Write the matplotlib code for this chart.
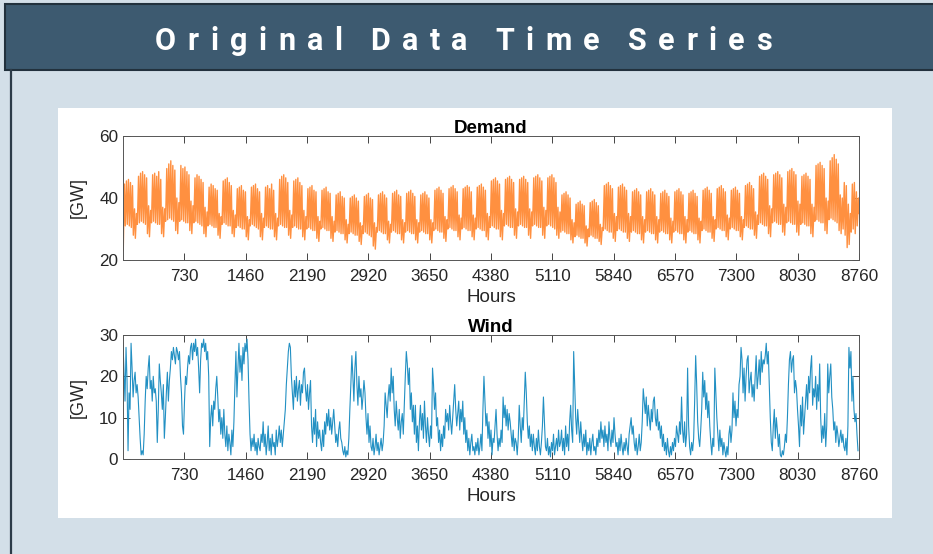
import numpy as np
import matplotlib.pyplot as plt
from matplotlib.patches import Rectangle
from matplotlib.lines import Line2D
from matplotlib import font_manager

# ---------- data ----------

# daily demand peaks [GW], one row per week (Mon..Sun)
demand_peak = [
    44.5, 45.5, 46.0, 45.0, 44.0, 36.5, 35.0,
    47.0, 48.0, 48.5, 47.5, 46.5, 37.5, 36.0,
    47.5, 48.0, 47.0, 48.5, 46.0, 37.0, 36.5,
    49.5, 51.0, 52.0, 50.5, 49.0, 40.0, 38.5,
    50.5, 49.5, 50.0, 48.5, 47.5, 39.0, 37.5,
    46.5, 47.5, 47.0, 46.0, 45.0, 37.0, 35.5,
    43.5, 44.5, 44.0, 43.0, 42.5, 35.0, 34.0,
    45.5, 46.0, 46.5, 45.0, 44.0, 36.0, 34.5,
    43.0, 43.5, 44.0, 42.5, 42.0, 34.0, 33.0,
    43.5, 44.0, 44.5, 43.0, 42.0, 35.0, 33.5,
    43.5, 44.0, 43.0, 44.5, 42.5, 35.0, 33.5,
    46.0, 47.0, 47.5, 46.5, 45.0, 36.0, 34.5,
    45.5, 46.0, 46.5, 45.0, 44.0, 36.0, 34.0,
    43.0, 43.5, 44.0, 42.5, 42.0, 34.0, 32.5,
    42.5, 43.0, 43.5, 42.0, 41.5, 34.0, 32.5,
    41.0, 41.5, 42.0, 40.5, 40.0, 33.0, 31.5,
    40.0, 40.5, 41.0, 40.0, 39.0, 32.0, 31.0,
    40.5, 41.0, 41.5, 40.0, 39.5, 32.0, 30.5,
    41.0, 41.5, 42.0, 41.0, 40.0, 32.5, 31.5,
    41.5, 42.0, 42.5, 41.0, 40.5, 33.0, 32.0,
    41.5, 42.0, 42.5, 41.5, 40.5, 33.0, 32.0,
    41.0, 41.5, 42.0, 41.0, 40.0, 33.0, 32.0,
    42.5, 43.0, 43.5, 42.5, 41.5, 34.0, 33.0,
    43.0, 43.5, 44.0, 43.0, 42.0, 34.5, 33.5,
    43.0, 43.5, 44.0, 43.5, 42.0, 34.5, 33.5,
    43.5, 44.0, 44.5, 43.5, 42.5, 35.0, 34.0,
    45.5, 46.0, 46.5, 45.5, 44.5, 36.0, 35.0,
    46.0, 46.5, 47.0, 46.0, 45.0, 36.5, 35.5,
    46.0, 46.5, 47.0, 46.0, 45.0, 36.5, 35.5,
    46.5, 47.0, 47.5, 46.5, 45.5, 37.0, 36.0,
    46.5, 47.0, 47.5, 46.5, 45.0, 37.0, 35.5,
    41.0, 41.5, 42.0, 41.0, 40.0, 33.0, 32.0,
    38.0, 38.5, 39.0, 38.0, 37.5, 31.0, 30.0,
    38.5, 39.0, 39.5, 38.5, 37.5, 31.5, 30.5,
    44.0, 44.5, 45.0, 44.0, 43.0, 35.0, 34.0,
    43.5, 44.0, 44.5, 43.5, 42.5, 35.0, 34.0,
    42.0, 42.5, 43.0, 42.0, 41.0, 34.0, 33.0,
    42.0, 42.5, 43.0, 42.0, 41.0, 34.0, 33.0,
    41.5, 42.0, 42.5, 41.5, 40.5, 33.5, 32.5,
    42.0, 42.5, 43.0, 42.0, 41.0, 34.0, 33.0,
    41.5, 42.0, 42.5, 41.5, 40.5, 33.5, 32.5,
    42.5, 43.0, 43.5, 42.5, 41.5, 34.0, 33.0,
    43.0, 43.5, 44.0, 43.0, 42.0, 34.5, 33.5,
    42.5, 43.0, 43.5, 42.5, 41.5, 34.0, 33.0,
    44.0, 44.5, 45.0, 44.0, 43.0, 35.5, 34.5,
    47.0, 47.5, 48.0, 47.0, 46.0, 37.5, 36.5,
    47.5, 48.0, 48.5, 47.5, 46.5, 38.0, 37.0,
    48.5, 49.0, 49.5, 48.5, 47.5, 39.0, 38.0,
    47.0, 47.5, 48.0, 47.0, 46.0, 38.0, 37.0,
    50.5, 51.0, 51.5, 50.5, 49.5, 40.0, 39.0,
    52.0, 53.0, 54.0, 52.5, 51.0, 41.0, 40.0,
    45.0, 44.0, 38.0, 35.0, 44.5, 45.0, 42.0,
    40.0,
]

# daily demand night troughs [GW], same layout
demand_trough = [
    23.0, 31.0, 31.5, 31.0, 30.5, 28.0, 27.0,
    31.5, 32.0, 32.5, 32.0, 31.5, 28.5, 27.5,
    32.0, 32.5, 32.0, 31.5, 31.5, 28.5, 27.5,
    32.5, 33.0, 33.5, 33.0, 32.5, 29.5, 28.5,
    32.5, 33.0, 32.5, 32.0, 32.0, 29.5, 28.5,
    32.0, 32.5, 32.0, 31.5, 31.0, 28.5, 27.5,
    31.0, 31.5, 31.0, 30.5, 30.5, 28.0, 27.0,
    31.5, 32.0, 31.5, 31.0, 31.0, 28.5, 27.5,
    30.5, 31.0, 30.5, 30.0, 30.0, 27.5, 26.5,
    31.0, 31.5, 31.0, 30.5, 30.0, 27.5, 26.5,
    30.5, 31.0, 30.5, 30.0, 30.0, 27.5, 26.5,
    31.0, 31.5, 31.0, 30.5, 30.5, 28.0, 27.0,
    30.5, 31.0, 30.5, 30.0, 30.0, 27.5, 26.5,
    30.0, 30.5, 30.0, 29.5, 29.5, 27.0, 26.0,
    30.0, 30.5, 30.0, 29.5, 29.5, 27.0, 26.0,
    29.0, 29.5, 29.0, 28.5, 28.5, 26.5, 25.5,
    28.5, 29.0, 28.5, 28.0, 28.0, 26.0, 25.0,
    28.5, 29.0, 28.5, 28.0, 27.5, 24.5, 23.5,
    29.0, 29.5, 29.0, 28.5, 28.5, 26.5, 25.5,
    29.0, 29.5, 29.0, 28.5, 28.5, 26.5, 25.5,
    29.0, 29.5, 29.0, 28.5, 28.5, 26.5, 25.5,
    29.0, 29.5, 29.0, 28.5, 28.5, 26.5, 25.5,
    29.5, 30.0, 29.5, 29.0, 29.0, 27.0, 26.0,
    30.0, 30.5, 30.0, 29.5, 29.5, 27.5, 26.5,
    30.0, 30.5, 30.0, 29.5, 29.5, 27.5, 26.5,
    30.0, 30.5, 30.0, 29.5, 29.5, 27.5, 26.5,
    30.5, 31.0, 30.5, 30.0, 30.0, 27.5, 26.5,
    31.0, 31.5, 31.0, 30.5, 30.5, 28.0, 27.0,
    31.0, 31.5, 31.0, 30.5, 30.5, 28.0, 27.0,
    31.0, 31.5, 31.0, 30.5, 30.5, 28.0, 27.0,
    31.0, 31.5, 31.0, 30.5, 30.0, 28.0, 27.0,
    29.0, 29.5, 29.0, 28.5, 28.5, 26.5, 25.5,
    27.5, 28.0, 27.5, 27.0, 27.0, 25.5, 24.5,
    27.5, 28.0, 27.5, 27.0, 27.0, 26.0, 25.0,
    29.5, 30.0, 29.5, 29.0, 29.0, 27.0, 26.0,
    29.5, 30.0, 29.5, 29.0, 29.0, 27.0, 26.0,
    29.0, 29.5, 29.0, 28.5, 28.5, 26.5, 25.5,
    29.0, 29.5, 29.0, 28.5, 28.5, 26.5, 25.5,
    29.0, 29.5, 29.0, 28.5, 28.5, 26.5, 25.5,
    29.0, 29.5, 29.0, 28.5, 28.5, 26.5, 25.5,
    29.0, 29.5, 29.0, 28.5, 28.5, 26.5, 25.5,
    29.5, 30.0, 29.5, 29.0, 29.0, 27.0, 26.0,
    30.0, 30.5, 30.0, 29.5, 29.5, 27.5, 26.5,
    30.0, 30.5, 30.0, 29.5, 29.5, 27.5, 26.5,
    30.5, 31.0, 30.5, 30.0, 30.0, 28.0, 27.0,
    31.5, 32.0, 31.5, 31.0, 31.0, 28.5, 27.5,
    32.0, 32.5, 32.0, 31.5, 31.5, 29.0, 28.0,
    32.0, 32.5, 32.0, 31.5, 31.5, 29.0, 28.0,
    31.5, 32.0, 31.5, 31.0, 31.0, 28.5, 27.5,
    32.5, 33.0, 32.5, 32.0, 32.0, 29.5, 28.5,
    33.0, 33.5, 33.0, 32.5, 32.0, 29.5, 28.5,
    30.0, 28.0, 24.0, 25.0, 29.0, 30.0, 28.5,
    31.0,
]
demand_last = 35.0

# wind generation [GW], 12-hourly, one row per week
wind = [
    28, 21, 14, 27, 19, 2, 16, 12, 28, 22, 15, 19, 21, 16,
    18, 15, 10, 5, 1, 2, 1, 6, 14, 20, 17, 22, 25, 17,
    19, 14, 20, 16, 17, 14, 4, 12, 23, 19, 16, 12, 18, 5,
    10, 16, 21, 14, 19, 22, 26, 24, 27, 25, 23, 27, 26, 24,
    26, 20, 16, 8, 6, 14, 20, 18, 22, 25, 23, 27, 28, 24,
    28, 26, 29, 25, 27, 22, 16, 24, 28, 27, 29, 26, 28, 24,
    26, 20, 3, 10, 13, 8, 14, 12, 17, 20, 15, 9, 12, 6,
    10, 5, 12, 6, 3, 8, 2, 6, 4, 1, 7, 3, 9, 18,
    26, 15, 22, 28, 21, 25, 19, 27, 23, 28, 26, 29, 24, 14,
    6, 2, 5, 3, 6, 2, 4, 1, 5, 3, 2, 6, 4, 9,
    3, 6, 1, 4, 8, 2, 5, 1, 6, 3, 4, 1, 7, 3,
    5, 8, 4, 7, 3, 6, 9, 12, 18, 22, 26, 28, 27, 20,
    16, 12, 19, 15, 20, 14, 17, 19, 13, 18, 16, 21, 22, 17,
    14, 18, 12, 16, 19, 8, 4, 10, 6, 12, 3, 9, 5, 7,
    4, 2, 7, 3, 9, 6, 11, 8, 12, 7, 10, 6, 9, 12,
    8, 4, 6, 3, 7, 9, 5, 4, 2, 1, 3, 0.5, 2, 1,
    5, 12, 18, 25, 20, 14, 22, 26, 18, 13, 20, 15, 17, 12,
    15, 19, 16, 10, 6, 11, 4, 8, 3, 2, 5, 1, 3, 6,
    2, 4, 1, 3, 5, 2, 4, 8, 16, 13, 10, 15, 18, 14,
    22, 16, 20, 12, 8, 14, 10, 7, 12, 5, 9, 11, 6, 13,
    20, 26, 23, 18, 22, 12, 16, 9, 13, 6, 13, 4, 8, 2,
    9, 13, 7, 11, 5, 14, 8, 4, 10, 6, 3, 8, 5, 22,
    18, 12, 16, 8, 10, 4, 7, 2, 6, 3, 8, 5, 12, 9,
    11, 7, 13, 9, 6, 10, 14, 18, 12, 8, 11, 14, 7, 12,
    9, 14, 6, 10, 4, 7, 2, 5, 1, 4, 6, 2, 3, 1,
    4, 2, 5, 1, 3, 6, 2, 12, 20, 14, 8, 11, 5, 9,
    3, 7, 1, 5, 4, 8, 12, 6, 2, 5, 3, 7, 4, 15,
    10, 13, 8, 12, 7, 11, 9, 6, 3, 7, 2, 5, 4, 1,
    5, 13, 8, 4, 10, 7, 14, 21, 16, 9, 5, 8, 3, 6,
    2, 6, 3, 1, 5, 2, 7, 3, 1, 4, 8, 15, 9, 3,
    2, 5, 1, 3, 0.5, 4, 2, 6, 1, 3, 5, 2, 7, 3,
    4, 7, 2, 5, 1, 8, 3, 6, 2, 9, 13, 7, 4, 26,
    18, 10, 6, 12, 8, 4, 9, 5, 2, 6, 3, 7, 1, 4,
    2, 5, 1, 4, 6, 2, 3, 1, 5, 3, 7, 4, 9, 5,
    7, 3, 8, 4, 6, 2, 9, 5, 3, 7, 4, 10, 6, 3,
    4, 1, 5, 2, 6, 3, 1, 4, 2, 5, 3, 1, 6, 8,
    10, 6, 8, 4, 2, 5, 1, 3, 6, 2, 4, 9, 17, 14,
    11, 15, 8, 13, 10, 7, 12, 9, 14, 15, 10, 8, 12, 7,
    9, 5, 8, 3, 6, 2, 4, 1, 5, 2, 0.5, 3, 1, 4,
    2, 5, 3, 8, 6, 4, 9, 6, 15, 7, 4, 9, 3, 6,
    22, 8, 3, 1, 4, 2, 5, 14, 25, 18, 9, 5, 3, 7,
    12, 21, 15, 19, 12, 16, 10, 14, 8, 4, 1, 5, 3, 22,
    16, 10, 6, 2, 7, 3, 5, 1, 4, 2, 0.5, 3, 1, 6,
    8, 4, 7, 16, 10, 14, 8, 12, 10, 18, 20, 27, 24, 16,
    22, 14, 20, 24, 25, 16, 19, 21, 15, 18, 14, 20, 25, 17,
    20, 24, 18, 26, 21, 24, 23, 25, 28, 23, 26, 18, 10, 4,
    2, 8, 12, 5, 10, 7, 3, 6, 1, 0.5, 2, 1, 3, 6,
    4, 10, 18, 24, 26, 21, 24, 25, 16, 19, 17, 12, 8, 3,
    13, 8, 15, 6, 10, 14, 18, 12, 20, 16, 22, 25, 13, 17,
    15, 20, 12, 18, 14, 23, 10, 4, 8, 5, 11, 3, 8, 23,
    16, 20, 23, 15, 12, 7, 9, 4, 8, 6, 3, 5, 7, 4,
    6, 3, 2, 5, 1, 8, 27, 22, 26, 14, 20, 12, 9, 11,
    6, 2,
]

hour_ticks = [730, 1460, 2190, 2920, 3650, 4380, 5110, 5840, 6570, 7300, 8030, 8760]
demand_yticks = [20, 40, 60]
wind_yticks = [0, 10, 20, 30]
header_title = "Original Data Time Series"

# ---------- figure ----------

W, H = 933, 554
fig = plt.figure(figsize=(W / 100, H / 100), dpi=100)
fig.patch.set_facecolor("#d3dfe8")

AX_FONT = "Liberation Sans"
TXT = "#262626"


def px_rect(x0, y0, x1, y1, **kw):
    """Rectangle given in pixel coords measured from the top-left corner."""
    r = Rectangle((x0 / W, 1 - y1 / H), (x1 - x0) / W, (y1 - y0) / H,
                  transform=fig.transFigure, **kw)
    fig.add_artist(r)
    return r


# slide frame: header bar, left rule, white plot panel
px_rect(5, 4, 940, 70, facecolor="#3d5a70", edgecolor="#22313d", linewidth=1.5, zorder=1)
fig.add_artist(Line2D([10.5 / W, 10.5 / W], [0, 1 - 70 / H], transform=fig.transFigure,
                      color="#2c3b48", linewidth=1.6, zorder=1))
px_rect(58, 108, 892, 518, facecolor="white", edgecolor="none", zorder=0)

# header title with wide letter spacing
names = {f.name for f in font_manager.fontManager.ttflist}
title_font = "Liberation Sans Narrow" if "Liberation Sans Narrow" in names else "Roboto"
renderer = fig.canvas.get_renderer()
title_size = 22
chars = []
for ch in header_title:
    t = fig.text(0, 0, ch if ch != " " else "", fontsize=title_size, fontweight="bold",
                 family=title_font, color="white", va="baseline", ha="left", zorder=3)
    chars.append(t)
widths = []
for ch, t in zip(header_title, chars):
    widths.append(t.get_window_extent(renderer).width if ch != " " else 0.0)
space_w = title_size * 0.22
span_x0, span_x1, base_y = 155, 772, 50
n_gaps = len(header_title) - 1
used = sum(widths) + space_w * header_title.count(" ")
track = (span_x1 - span_x0 - used) / n_gaps
x = span_x0
for ch, t, w in zip(header_title, chars, widths):
    t.set_position((x / W, 1 - base_y / H))
    x += (w if ch != " " else space_w) + track


def style_axes(ax, yticks, title):
    ax.set_xlim(0, 8760)
    ax.set_ylim(yticks[0], yticks[-1])
    ax.set_xticks(hour_ticks)
    ax.set_yticks(yticks)
    ax.tick_params(direction="in", top=True, right=True, length=5, width=0.6,
                   colors=TXT, labelsize=12.3)
    ax.tick_params(axis="x", pad=6.5)
    ax.tick_params(axis="y", pad=3.5)
    for lbl in ax.get_xticklabels() + ax.get_yticklabels():
        lbl.set_family(AX_FONT)
    for s in ax.spines.values():
        s.set_color("#555555")
        s.set_linewidth(0.7)
    ax.set_xlabel("Hours", fontsize=13.5, color=TXT, family=AX_FONT, labelpad=3.5)
    ax.set_ylabel("[GW]", fontsize=13, color=TXT, family=AX_FONT)
    ax.yaxis.set_label_coords(-0.049, 0.5)
    ax.set_title(title, fontsize=13.5, fontweight="bold", color="black",
                 family=AX_FONT, pad=2.5)


# demand: night trough and evening peak for every day
peak = np.asarray(demand_peak)
trough = np.asarray(demand_trough)
days = np.arange(len(peak))
hd = np.empty(2 * len(days) + 1)
vd = np.empty(2 * len(days) + 1)
hd[0:-1:2] = days * 24 + 3
hd[1:-1:2] = days * 24 + 17
vd[0:-1:2] = trough
vd[1:-1:2] = peak
hd[-1], vd[-1] = 8760, demand_last

ax1 = fig.add_axes([123 / W, 1 - 260 / H, 736 / W, 124 / H])
ax1.plot(hd, vd, color="#ff9040", linewidth=1.0)
style_axes(ax1, demand_yticks, "Demand")

# wind: 12-hourly samples
wv = np.asarray(wind, dtype=float)
hw = np.arange(len(wv)) * 12
ax2 = fig.add_axes([123 / W, 1 - 459 / H, 736 / W, 124 / H])
ax2.plot(hw, wv, color="#2290c3", linewidth=0.8)
style_axes(ax2, wind_yticks, "Wind")

fig.savefig("out.png", dpi=100, facecolor=fig.get_facecolor())
